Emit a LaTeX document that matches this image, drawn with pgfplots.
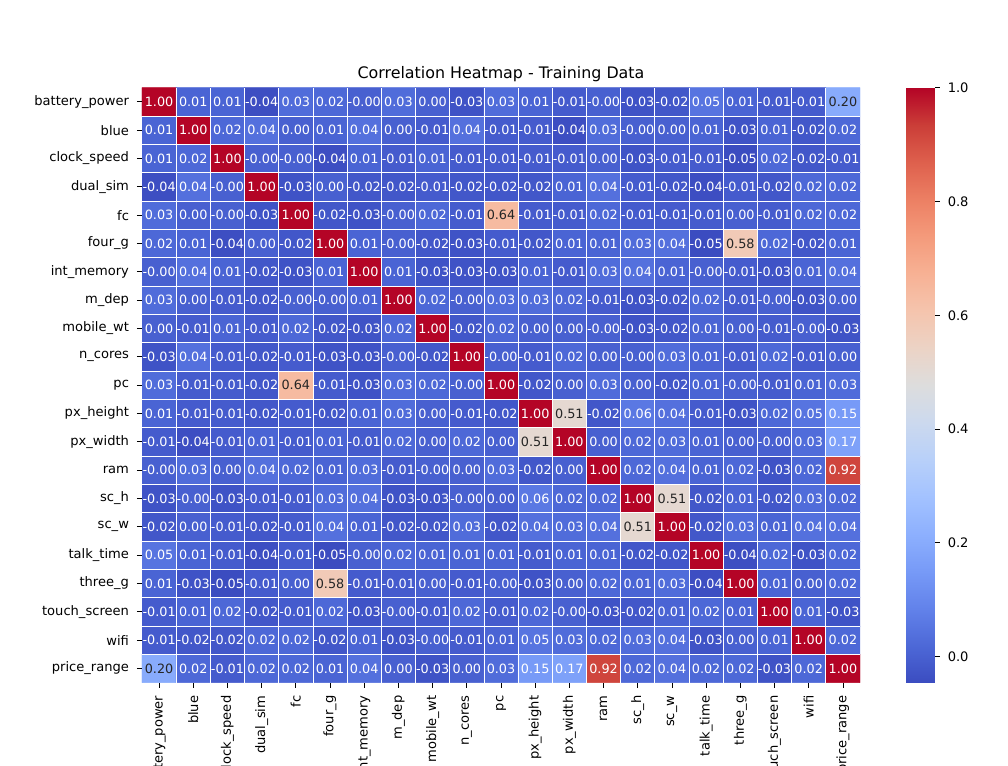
\documentclass[border=0pt]{standalone}
\usepackage{pgfplots}
\pgfplotsset{compat=1.18}
\usepackage{pgfplotstable}
\usepackage{fontspec}
\setmainfont{DejaVu Sans}
\definecolor{K}{HTML}{262626}
\pgfplotsset{colormap={coolwarm}{rgb255=(59,76,192) rgb255=(77,104,215) rgb255=(98,130,234) rgb255=(119,154,247) rgb255=(141,176,254) rgb255=(163,194,255) rgb255=(184,208,249) rgb255=(204,217,238) rgb255=(221,221,221) rgb255=(236,211,197) rgb255=(245,196,173) rgb255=(247,177,148) rgb255=(244,154,123) rgb255=(236,127,99) rgb255=(222,96,77) rgb255=(203,62,56) rgb255=(180,4,38)}}

\pgfplotstableread[row sep=\\]{%
v\\%
1.00\\0.01\\0.01\\-0.04\\0.03\\0.02\\-0.00\\0.03\\0.00\\-0.03\\0.03\\0.01\\-0.01\\-0.00\\-0.03\\-0.02\\0.05\\0.01\\-0.01\\-0.01\\0.20\\%
0.01\\1.00\\0.02\\0.04\\0.00\\0.01\\0.04\\0.00\\-0.01\\0.04\\-0.01\\-0.01\\-0.04\\0.03\\-0.00\\0.00\\0.01\\-0.03\\0.01\\-0.02\\0.02\\%
0.01\\0.02\\1.00\\-0.00\\-0.00\\-0.04\\0.01\\-0.01\\0.01\\-0.01\\-0.01\\-0.01\\-0.01\\0.00\\-0.03\\-0.01\\-0.01\\-0.05\\0.02\\-0.02\\-0.01\\%
-0.04\\0.04\\-0.00\\1.00\\-0.03\\0.00\\-0.02\\-0.02\\-0.01\\-0.02\\-0.02\\-0.02\\0.01\\0.04\\-0.01\\-0.02\\-0.04\\-0.01\\-0.02\\0.02\\0.02\\%
0.03\\0.00\\-0.00\\-0.03\\1.00\\-0.02\\-0.03\\-0.00\\0.02\\-0.01\\0.64\\-0.01\\-0.01\\0.02\\-0.01\\-0.01\\-0.01\\0.00\\-0.01\\0.02\\0.02\\%
0.02\\0.01\\-0.04\\0.00\\-0.02\\1.00\\0.01\\-0.00\\-0.02\\-0.03\\-0.01\\-0.02\\0.01\\0.01\\0.03\\0.04\\-0.05\\0.58\\0.02\\-0.02\\0.01\\%
-0.00\\0.04\\0.01\\-0.02\\-0.03\\0.01\\1.00\\0.01\\-0.03\\-0.03\\-0.03\\0.01\\-0.01\\0.03\\0.04\\0.01\\-0.00\\-0.01\\-0.03\\0.01\\0.04\\%
0.03\\0.00\\-0.01\\-0.02\\-0.00\\-0.00\\0.01\\1.00\\0.02\\-0.00\\0.03\\0.03\\0.02\\-0.01\\-0.03\\-0.02\\0.02\\-0.01\\-0.00\\-0.03\\0.00\\%
0.00\\-0.01\\0.01\\-0.01\\0.02\\-0.02\\-0.03\\0.02\\1.00\\-0.02\\0.02\\0.00\\0.00\\-0.00\\-0.03\\-0.02\\0.01\\0.00\\-0.01\\-0.00\\-0.03\\%
-0.03\\0.04\\-0.01\\-0.02\\-0.01\\-0.03\\-0.03\\-0.00\\-0.02\\1.00\\-0.00\\-0.01\\0.02\\0.00\\-0.00\\0.03\\0.01\\-0.01\\0.02\\-0.01\\0.00\\%
0.03\\-0.01\\-0.01\\-0.02\\0.64\\-0.01\\-0.03\\0.03\\0.02\\-0.00\\1.00\\-0.02\\0.00\\0.03\\0.00\\-0.02\\0.01\\-0.00\\-0.01\\0.01\\0.03\\%
0.01\\-0.01\\-0.01\\-0.02\\-0.01\\-0.02\\0.01\\0.03\\0.00\\-0.01\\-0.02\\1.00\\0.51\\-0.02\\0.06\\0.04\\-0.01\\-0.03\\0.02\\0.05\\0.15\\%
-0.01\\-0.04\\-0.01\\0.01\\-0.01\\0.01\\-0.01\\0.02\\0.00\\0.02\\0.00\\0.51\\1.00\\0.00\\0.02\\0.03\\0.01\\0.00\\-0.00\\0.03\\0.17\\%
-0.00\\0.03\\0.00\\0.04\\0.02\\0.01\\0.03\\-0.01\\-0.00\\0.00\\0.03\\-0.02\\0.00\\1.00\\0.02\\0.04\\0.01\\0.02\\-0.03\\0.02\\0.92\\%
-0.03\\-0.00\\-0.03\\-0.01\\-0.01\\0.03\\0.04\\-0.03\\-0.03\\-0.00\\0.00\\0.06\\0.02\\0.02\\1.00\\0.51\\-0.02\\0.01\\-0.02\\0.03\\0.02\\%
-0.02\\0.00\\-0.01\\-0.02\\-0.01\\0.04\\0.01\\-0.02\\-0.02\\0.03\\-0.02\\0.04\\0.03\\0.04\\0.51\\1.00\\-0.02\\0.03\\0.01\\0.04\\0.04\\%
0.05\\0.01\\-0.01\\-0.04\\-0.01\\-0.05\\-0.00\\0.02\\0.01\\0.01\\0.01\\-0.01\\0.01\\0.01\\-0.02\\-0.02\\1.00\\-0.04\\0.02\\-0.03\\0.02\\%
0.01\\-0.03\\-0.05\\-0.01\\0.00\\0.58\\-0.01\\-0.01\\0.00\\-0.01\\-0.00\\-0.03\\0.00\\0.02\\0.01\\0.03\\-0.04\\1.00\\0.01\\0.00\\0.02\\%
-0.01\\0.01\\0.02\\-0.02\\-0.01\\0.02\\-0.03\\-0.00\\-0.01\\0.02\\-0.01\\0.02\\-0.00\\-0.03\\-0.02\\0.01\\0.02\\0.01\\1.00\\0.01\\-0.03\\%
-0.01\\-0.02\\-0.02\\0.02\\0.02\\-0.02\\0.01\\-0.03\\-0.00\\-0.01\\0.01\\0.05\\0.03\\0.02\\0.03\\0.04\\-0.03\\0.00\\0.01\\1.00\\0.02\\%
0.20\\0.02\\-0.01\\0.02\\0.02\\0.01\\0.04\\0.00\\-0.03\\0.00\\0.03\\0.15\\0.17\\0.92\\0.02\\0.04\\0.02\\0.02\\-0.03\\0.02\\1.00\\%
}\corr

\begin{document}
\begin{tikzpicture}
\begin{axis}[
  at={(0,0)}, anchor=south west,
  scale only axis, width=538.5pt, height=446.25pt,
  xmin=-0.5, xmax=20.5, ymin=-0.5, ymax=20.5,
  axis x line*=bottom, axis y line*=left,
  axis line style={draw=none},
  xtick={0,...,20}, ytick={0,...,20},
  xticklabels={battery\_power,blue,clock\_speed,dual\_sim,fc,four\_g,int\_memory,m\_dep,mobile\_wt,n\_cores,pc,px\_height,px\_width,ram,sc\_h,sc\_w,talk\_time,three\_g,touch\_screen,wifi,price\_range},
  yticklabels={price\_range,wifi,touch\_screen,three\_g,talk\_time,sc\_w,sc\_h,ram,px\_width,px\_height,pc,n\_cores,mobile\_wt,m\_dep,int\_memory,four\_g,fc,dual\_sim,clock\_speed,blue,battery\_power},
  tick align=outside, major tick length=3.75pt,
  tick style={black, line width=0.6pt},
  xticklabel style={rotate=90, anchor=east, font=\fontsize{9.8}{11}\selectfont},
  xticklabel shift=2.5pt, yticklabel shift=2.5pt,
  yticklabel style={font=\fontsize{9.8}{11}\selectfont},
  minor xtick={0.5,1.5,...,19.5}, minor ytick={0.5,1.5,...,19.5},
  xminorgrids, yminorgrids, minor tick length=0pt,
  minor grid style={white, line width=0.6pt},
  axis on top,
  colormap name=coolwarm,
  point meta min=-0.0457, point meta max=1,
  title={Correlation Heatmap - Training Data},
  title style={font=\fontsize{11.9}{14}\selectfont, yshift=-5.25pt},
]
\addplot[matrix plot*, mesh/cols=21, point meta=\thisrow{v}, draw=none]
  table[x index=0, y index=0, x expr={\coordindex-21*floor((\coordindex+0.5)/21)}, y expr={20-floor((\coordindex+0.5)/21)}] {\corr};
\addplot[draw=none, mark=none, point meta=explicit symbolic,
  nodes near coords={\ifdim\pgfplotspointmeta pt>0.18pt \ifdim\pgfplotspointmeta pt<0.7pt \color{K}\else\color{white}\fi\else\color{white}\fi\pgfplotspointmeta},
  nodes near coords style={anchor=center, inner sep=0pt, font=\fontsize{9.6}{11}\selectfont},
  ] table[x index=0, y index=0, x expr={\coordindex-21*floor((\coordindex+0.5)/21)}, y expr={20-floor((\coordindex+0.5)/21)}, meta=v] {\corr};
\end{axis}
\begin{axis}[
  at={(572.8pt,0pt)}, anchor=south west,
  scale only axis, width=21.75pt, height=446.25pt,
  xmin=0, xmax=1, ymin=-0.0457, ymax=1,
  xtick=\empty,
  ytick={0,0.2,0.4,0.6,0.8,1.0},
  ytick pos=right, yticklabel pos=right,
  yticklabel style={font=\fontsize{9.8}{11}\selectfont, /pgf/number format/.cd, fixed, fixed zerofill, precision=1, assume math mode=true},
  yticklabel shift=2.5pt,
  tick align=outside, major tick length=3.75pt,
  tick style={black, line width=0.6pt},
  axis line style={draw=none},
  axis on top,
  colormap name=coolwarm,
  point meta min=-0.0457, point meta max=1,
]
\addplot[surf, shader=interp, mesh/cols=2, point meta=y] coordinates {
(0,-0.0457) (1,-0.0457)
(0,0) (1,0)
(0,0.1) (1,0.1)
(0,0.2) (1,0.2)
(0,0.3) (1,0.3)
(0,0.4) (1,0.4)
(0,0.5) (1,0.5)
(0,0.6) (1,0.6)
(0,0.7) (1,0.7)
(0,0.8) (1,0.8)
(0,0.9) (1,0.9)
(0,1) (1,1)
};
\end{axis}
\pgfresetboundingbox
\useasboundingbox (-106.5pt,-62.5pt) rectangle (649.5pt,512pt);
\end{tikzpicture}
\end{document}
